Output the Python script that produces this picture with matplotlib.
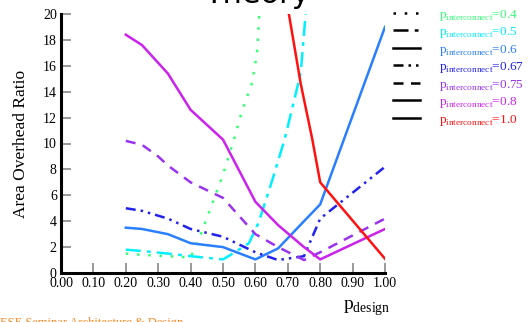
import matplotlib
matplotlib.use("Agg")
import matplotlib.pyplot as plt
from matplotlib.lines import Line2D

plt.rcParams["font.family"] = ["Liberation Serif", "DejaVu Serif"]
plt.rcParams["mathtext.fontset"] = "custom"
plt.rcParams["mathtext.rm"] = "Liberation Serif"

# p_interconnect = 0.4 (green dotted)
x_04 = [0.20, 0.25, 0.33, 0.40, 0.43, 0.46, 0.50, 0.53, 0.56, 0.59, 0.605, 0.612]
y_04 = [1.5, 1.4, 1.3, 1.2, 2.9, 4.9, 7.6, 10.0, 12.6, 14.7, 17.0, 20.0]
# p_interconnect = 0.5 (cyan dash-dot)
x_05 = [0.20, 0.25, 0.33, 0.40, 0.50, 0.53, 0.58, 0.61, 0.65, 0.69, 0.73, 0.74, 0.755]
y_05 = [1.8, 1.7, 1.5, 1.3, 1.05, 1.5, 2.3, 3.9, 7.0, 10.3, 14.4, 15.5, 20.0]
# p_interconnect = 0.6 (blue solid)
x_06 = [0.20, 0.25, 0.33, 0.40, 0.50, 0.60, 0.67, 0.75, 0.80, 1.00]
y_06 = [3.5, 3.4, 3.0, 2.3, 2.0, 1.05, 1.9, 4.0, 5.3, 19.0]
# p_interconnect = 0.67 (blue dash-dot-dot)
x_067 = [0.20, 0.25, 0.33, 0.40, 0.50, 0.60, 0.67, 0.75, 0.80, 1.00]
y_067 = [5.0, 4.8, 4.2, 3.4, 2.8, 1.6, 1.0, 1.3, 4.2, 8.2]
# p_interconnect = 0.75 (purple dashed)
x_075 = [0.20, 0.25, 0.30, 0.33, 0.40, 0.50, 0.60, 0.67, 0.75, 0.80, 1.00]
y_075 = [10.2, 9.9, 9.0, 8.3, 7.0, 5.8, 3.0, 2.0, 1.0, 1.6, 4.2]
# p_interconnect = 0.8 (magenta solid)
x_08 = [0.20, 0.25, 0.33, 0.40, 0.50, 0.60, 0.67, 0.75, 0.80, 1.00]
y_08 = [18.4, 17.6, 15.4, 12.6, 10.3, 5.5, 3.7, 2.0, 1.05, 3.4]
# p_interconnect = 1.0 (red solid)
x_10 = [0.702, 0.74, 0.775, 0.80, 1.00]
y_10 = [20.2, 14.6, 10.4, 7.0, 1.1]

labels = ["0.4", "0.5", "0.6", "0.67", "0.75", "0.8", "1.0"]
colors = ["#33ff77", "#00f0ff", "#2a7fff", "#2222ee", "#9933ee", "#cc22ee", "#ff1111"]
styles = [(0, (1, 3.5)), (0, (6, 2.5, 1.5, 2.5)), "-", (0, (4, 2, 1, 2, 1, 2)),
          (0, (4, 3)), "-", "-"]
xs = [x_04, x_05, x_06, x_067, x_075, x_08, x_10]
ys = [y_04, y_05, y_06, y_067, y_075, y_08, y_10]

fig = plt.figure(figsize=(5.29, 3.22), dpi=100)
ax = fig.add_axes([61 / 529, 49 / 322, 324 / 529, 259 / 322])

for x, y, c, ls in zip(xs, ys, colors, styles):
    ax.plot(x, y, color=c, ls=ls, lw=1.8)

ax.set_xlim(0, 1.0)
ax.set_ylim(0, 20)
ax.set_xticks([i / 10 for i in range(11)])
ax.set_xticklabels([f"{i / 10:.2f}" for i in range(11)])
ax.set_yticks(range(0, 21, 2))
ax.tick_params(direction="in", length=7, width=1.2, color="#888888",
               labelsize=10, pad=3)
for s in ["top", "right"]:
    ax.spines[s].set_visible(False)
for s in ["left", "bottom"]:
    ax.spines[s].set_linewidth(2.2)
ax.set_ylabel("Area Overhead Ratio", fontsize=12.5, labelpad=10)

handles = [Line2D([], [], color="black", ls=ls, lw=1.8) for ls in styles]
texts = [r"p$_{\rm interconnect}$=" + l for l in labels]
leg = ax.legend(handles, texts, loc="upper left", bbox_to_anchor=(1.025, 1.025),
                frameon=False, fontsize=9.5, handlelength=2.05,
                handletextpad=1.4, labelspacing=0.19, borderaxespad=0,
                borderpad=0)
for t, c in zip(leg.get_texts(), colors):
    t.set_color(c)

fig.text(390 / 529, 1 - 308 / 322, r"p$_{\rm design}$", fontsize=14,
         ha="right", va="center")
fig.text(257 / 529, 1 - 3 / 322, "Theory", fontsize=22, family="DejaVu Sans",
         ha="center", va="baseline")
fig.text(0, -1 / 322, "ESE Seminar Architecture & Design", fontsize=9,
         color="#ff8822", ha="left", va="center")

fig.savefig("out.png", dpi=100)
